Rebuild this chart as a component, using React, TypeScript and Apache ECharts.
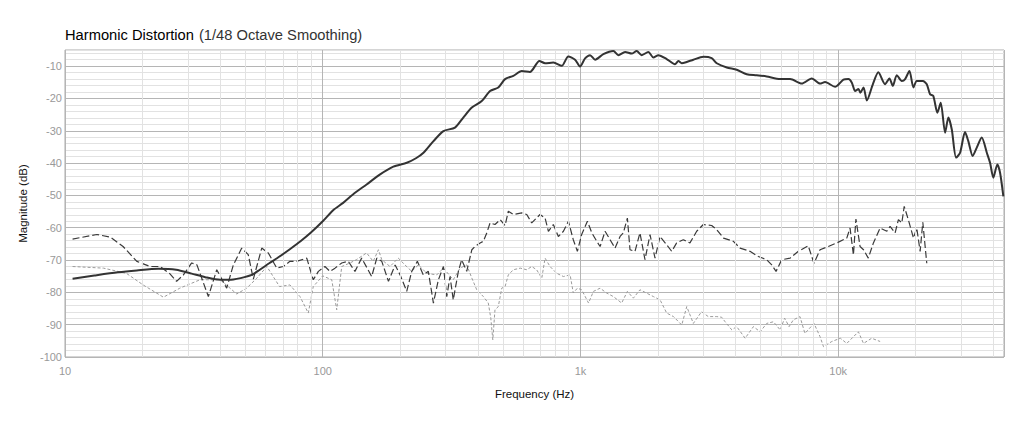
import React, { useEffect, useRef } from "react";
import * as echarts from "echarts";

// Fundamental (solid)
const FUNDAMENTAL: [number, number][] = [
  [10.7, -75.8], [13, -74.8], [16, -73.8], [19, -73.2], [23, -72.7], [27, -73], [31, -74.2], [35, -75.3],
  [40, -76.1], [45, -76], [48, -75.6], [53, -74.6], [57, -73], [62, -71], [68, -68.9], [75, -66.5],
  [82, -64.2], [90, -61.5], [100, -58], [110, -54.5], [120, -52.3], [131, -49.7], [148, -46.6], [167, -43.5],
  [188, -41.1], [212, -39.9], [230, -38.5], [246, -36.8], [269, -33.2], [294, -30.1], [326, -29], [351, -25.9],
  [379, -22.8], [414, -20.8], [446, -17.7], [480, -16.6], [510, -14], [549, -13], [592, -11.5], [637, -11.8],
  [693, -8.4], [729, -9.1], [785, -8.9], [846, -9.9], [897, -7], [953, -8], [996, -10.1], [1042, -7.6],
  [1090, -6.6], [1140, -8], [1227, -6.3], [1342, -5.3], [1404, -6.6], [1490, -5.6], [1581, -6.1], [1653, -5.3],
  [1729, -6.6], [1834, -5.6], [1919, -7.3], [2006, -6.6], [2161, -7.8], [2327, -9.4], [2398, -8.4], [2472, -9.1],
  [2585, -8.7], [2742, -8], [2999, -7.1], [3230, -7.5], [3380, -9.1], [3697, -10.4], [4040, -11.1], [4418, -12.5],
  [4830, -12.8], [5282, -13.2], [5954, -14], [6510, -14], [7220, -15.4], [7895, -13.8], [8505, -15.4], [8895, -14.9],
  [9724, -16.4], [10480, -14.2], [10960, -14], [11300, -15.1], [11640, -17.7], [11990, -17.1], [12200, -18.2], [12540, -16.6],
  [12920, -20.6], [13630, -15.6], [14320, -11.9], [15200, -15.6], [15810, -13.8], [16300, -16.1], [16880, -12.8], [17660, -14.6],
  [18190, -14], [18900, -11.5], [19590, -16.6], [20180, -14.6], [21300, -14.6], [22070, -15.6], [22730, -18.7], [23390, -19.2],
  [24270, -24.4], [25000, -21.3], [26000, -30.6], [26770, -25.9], [27600, -29.6], [28690, -38.3], [29720, -36.8], [31060, -30.4],
  [31990, -33.2], [33270, -37.8], [34500, -35.2], [36070, -32.1], [37740, -36.8], [38850, -39.9], [40000, -44.5], [41450, -40.4],
  [42480, -43], [43750, -50.3],
];

// 2nd harmonic (dark, long dashes)
const SECOND_HARMONIC: [number, number][] = [
  [10.7, -63.5], [13.3, -62.1], [15, -62.9], [16.8, -65.8], [19, -70.4], [21.4, -72], [23.4, -72], [25.5, -74.2],
  [27.1, -76.6], [28.8, -74.6], [31, -70.9], [32.5, -71.5], [36, -81.3], [38.8, -73], [42.4, -78.7], [45, -71.5],
  [48.5, -66.3], [51.4, -68.3], [53.8, -75.9], [58, -66.3], [61.5, -67.8], [66.3, -72.5], [70.3, -72], [74.6, -70.4],
  [79.2, -70.4], [86.7, -69.4], [91.9, -76.1], [96.2, -73.5], [102, -72], [106.7, -73.5], [111.6, -72.5], [118.5, -70.9],
  [125.7, -70.4], [133.4, -73.5], [141.6, -69.4], [154.9, -75.1], [162.1, -69.4], [169.5, -70.4], [179.9, -76.6], [191, -71.5],
  [199.7, -74.6], [211.8, -79.7], [221.5, -73.5], [232.9, -70.4], [245.7, -74.6], [256.9, -73.5], [268.8, -83.3], [281.1, -76.1],
  [294, -72], [302.9, -81.3], [311.9, -75.1], [321, -82.3], [336, -73.5], [346, -69.9], [362, -73.5], [379, -66.8],
  [390, -65.8], [408, -64.7], [420, -64.2], [433, -61.6], [446, -58.5], [466, -59], [488, -57.5], [510, -59.3],
  [525, -54.9], [549, -55.9], [592, -55.4], [619, -55.9], [647, -58.5], [697, -55.9], [729, -57], [751, -61.1],
  [785, -59], [821, -62.7], [859, -61.1], [898, -58], [938, -63.7], [973, -67.3], [1011, -62.1], [1064, -58],
  [1107, -61.6], [1157, -64.2], [1192, -65.8], [1246, -61.1], [1303, -63.7], [1362, -66.3], [1425, -62.7], [1467, -61.6],
  [1521, -57], [1557, -66.8], [1628, -67.3], [1702, -61.6], [1780, -69.9], [1862, -62.1], [1947, -69.4], [2036, -62.7],
  [2161, -65.3], [2260, -67.3], [2362, -64.7], [2506, -63.7], [2660, -64.7], [2825, -61.1], [2998, -59], [3230, -59.3],
  [3380, -60.6], [3590, -63.2], [3922, -64.2], [4160, -66.3], [4548, -67.3], [4900, -68.9], [5282, -69.9], [5524, -71.5],
  [5741, -73.5], [6040, -69.9], [6510, -69.4], [7007, -67.3], [7655, -65.6], [8057, -71], [8505, -66.8], [9160, -65.8],
  [9880, -64.7], [10800, -63.2], [11120, -60.1], [11460, -68.4], [11720, -57.3], [12160, -65.8], [12540, -66.8], [13090, -69.4],
  [13700, -64.7], [14550, -60.1], [15450, -61.1], [15900, -59.6], [16630, -61.6], [17130, -57.5], [17660, -58.5], [18040, -53.4],
  [18720, -57.5], [19590, -63.2], [20180, -60.1], [20800, -67.3], [21300, -58.3], [22070, -71],
];

// 3rd harmonic (light, short dashes)
const THIRD_HARMONIC: [number, number][] = [
  [10.7, -72], [14.1, -72.5], [17.3, -74.1], [20.1, -77.7], [24.1, -81.5], [27.9, -78.7], [33.4, -76.1], [40, -76.1],
  [46.4, -80.5], [50.7, -78.7], [55.5, -75.6], [60.7, -72], [68, -78.2], [74.6, -77.7], [81.6, -81.3], [87.9, -86.4],
  [91.9, -78.2], [100, -74.9], [108.4, -76.1], [113.3, -85.4], [118.5, -72], [127.6, -70.9], [135, -69.9], [148, -67.8],
  [157, -70.4], [164.5, -66.8], [169.5, -69.9], [182.4, -72], [196.5, -69.4], [208.4, -71.5], [221.5, -73.5], [235, -71.5],
  [253.4, -74.1], [277, -74.6], [294, -72.5], [321, -76.1], [341, -72.5], [362, -71.5], [379, -75.6], [396, -79.2],
  [420, -81.3], [439, -83.3], [449, -88], [457, -94.7], [466, -85.4], [480, -84.4], [495, -78.7], [510, -78.2],
  [525, -74.6], [549, -73], [584, -72.5], [619, -73], [647, -72], [676, -73], [708, -75.6], [729, -69.4],
  [762, -72], [809, -74.1], [859, -75.1], [912, -74.6], [938, -80.2], [973, -78.7], [1011, -79.2], [1075, -83.3],
  [1123, -79.7], [1192, -78.7], [1264, -80.2], [1342, -81.3], [1445, -83.3], [1521, -79.7], [1604, -81.8], [1702, -79.2],
  [1919, -81.3], [2036, -82.3], [2161, -86.4], [2297, -87.5], [2472, -90.1], [2585, -84.4], [2742, -89.6], [2950, -86],
  [3134, -87.5], [3380, -87.5], [3533, -87.7], [3642, -89.1], [3866, -91.6], [4040, -90.6], [4355, -94.2], [4690, -90.6],
  [4980, -92.2], [5282, -89.6], [5610, -89.1], [5954, -91.6], [6200, -88], [6450, -90.6], [6700, -88.5], [7110, -87.5],
  [7430, -92.7], [8057, -89.6], [8505, -93.7], [8770, -96.8], [9450, -95.2], [10200, -94.2], [10800, -95.8], [11980, -92.2],
  [12540, -95.8], [13490, -94.2], [14550, -95.2],
];

const X_TICK_LABELS: Record<number, string> = { 10: "10", 100: "100", 1000: "1k", 10000: "10k" };
const MINOR_FREQS: number[] = [
  20, 30, 40, 50, 60, 70, 80, 90,
  200, 300, 400, 500, 600, 700, 800, 900,
  2000, 3000, 4000, 5000, 6000, 7000, 8000, 9000,
  20000, 30000, 40000,
];

const FONT = "'Liberation Sans', Arial, sans-serif";

export default function App() {
  const ref = useRef<HTMLDivElement>(null);
  useEffect(() => {
    if (!ref.current) return;
    const chart = echarts.init(ref.current, null, { renderer: "svg" });
    const major = "#b5b5b5";
    const minor = "#e2e2e2";
    chart.setOption({
      animation: false,
      backgroundColor: "#fff",
      title: {
        left: 65,
        top: 26,
        padding: 0,
        text: "{a|Harmonic Distortion} {b|(1/48 Octave Smoothing)}",
        textStyle: {
          rich: {
            a: { fontFamily: FONT, fontSize: 14.7, color: "#000", fontWeight: 500 },
            b: { fontFamily: FONT, fontSize: 14.7, color: "#333", fontWeight: 400 },
          },
        },
      },
      grid: {
        left: 65,
        right: 20,
        top: 50,
        bottom: 70,
        show: true,
        borderColor: "#aaa",
        borderWidth: 1,
        backgroundColor: "transparent",
      },
      xAxis: {
        type: "log",
        logBase: 10,
        min: 10,
        max: 44000,
        name: "Frequency (Hz)",
        nameLocation: "middle",
        nameGap: 31,
        nameTextStyle: { fontFamily: FONT, fontSize: 11.5, color: "#111" },
        axisLine: { show: false },
        axisTick: { show: false },
        axisLabel: {
          margin: 8,
          fontFamily: FONT,
          fontSize: 11,
          color: "#999",
          formatter: (v: number) => X_TICK_LABELS[Math.round(v)] ?? "",
        },
        splitLine: { show: true, lineStyle: { color: major, width: 1 } },
      },
      yAxis: {
        type: "value",
        min: -100,
        max: -5,
        interval: 2,
        name: "Magnitude (dB)",
        nameLocation: "middle",
        nameGap: 31,
        nameTextStyle: { fontFamily: FONT, fontSize: 11.5, color: "#111" },
        axisLine: { show: false },
        axisTick: { show: false },
        axisLabel: {
          margin: 3,
          fontFamily: FONT,
          fontSize: 11,
          color: "#999",
          formatter: (v: number) => (Math.round(v) % 10 === 0 ? String(Math.round(v)) : ""),
        },
        splitLine: {
          show: true,
          lineStyle: { color: [major, minor, minor, minor, minor], width: 1 },
        },
      },
      series: [
        {
          type: "line",
          name: "grid",
          data: [[10, -100]],
          showSymbol: false,
          symbol: "none",
          lineStyle: { width: 0, opacity: 0 },
          silent: true,
          z: 1,
          markLine: {
            silent: true,
            symbol: ["none", "none"],
            label: { show: false },
            lineStyle: { color: minor, width: 1, type: "solid" },
            emphasis: { disabled: true },
            data: MINOR_FREQS.map((f) => ({ xAxis: f })),
          },
        },
        {
          type: "line",
          name: "3rd",
          data: THIRD_HARMONIC,
          showSymbol: false,
          symbol: "none",
          z: 3,
          lineStyle: { color: "#9a9a9a", width: 1, type: [3, 2] },
        },
        {
          type: "line",
          name: "2nd",
          data: SECOND_HARMONIC,
          showSymbol: false,
          symbol: "none",
          z: 4,
          lineStyle: { color: "#3a3a3a", width: 1.2, type: [7, 3] },
        },
        {
          type: "line",
          name: "Fundamental",
          data: FUNDAMENTAL,
          showSymbol: false,
          symbol: "none",
          smooth: 0.25,
          z: 5,
          lineStyle: { color: "#333", width: 2 },
        },
      ],
    });
    return () => chart.dispose();
  }, []);
  return (
    <div
      ref={ref}
      style={{ position: "fixed", left: 0, top: 0, width: 1024, height: 427, background: "#fff" }}
    />
  );
}
